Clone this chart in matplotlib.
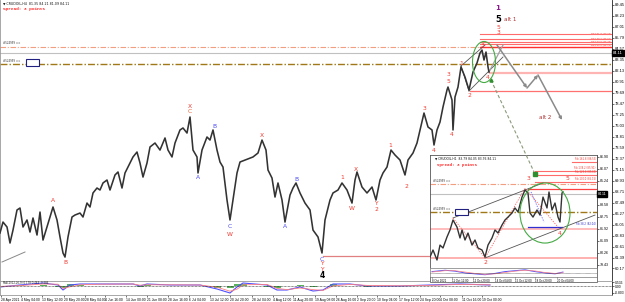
import matplotlib
matplotlib.use("Agg")
import matplotlib.pyplot as plt
from matplotlib.patches import Ellipse, Rectangle
from matplotlib.lines import Line2D

# ---------------- data ----------------
main_bar = [0, 3, 7, 10, 13, 17, 20, 23, 27, 30, 33, 37, 40, 43, 47, 50, 53, 57, 60, 63,
            65, 68, 72, 75, 80, 83, 87, 90, 93, 97, 100, 103, 107, 110, 115, 118, 122, 125, 130, 133,
            137, 140, 143, 147, 150, 155, 160, 165, 168, 172, 175, 180, 183, 187, 190, 193, 197, 198, 202, 207,
            210, 213, 217, 220, 223, 227, 230, 233, 237, 240, 245, 250, 253, 258, 262, 266, 268, 272, 275, 278,
            282, 285, 290, 293, 296, 300, 305, 310, 313, 318, 322, 325, 330, 333, 338, 342, 347, 352, 355, 357,
            362, 367, 372, 376, 380, 383, 387, 391, 395, 400, 405, 408, 413, 417, 420, 424, 428, 432, 434, 437,
            440, 443, 447, 448, 452, 453, 455, 458, 461, 465, 469, 473, 477, 480, 482, 484, 486, 488, 489]
main_close = [64.11, 65.33, 64.78, 63.00, 64.44, 66.67, 66.89, 64.78, 65.56, 64.22, 65.78, 63.89, 66.44, 63.33, 64.78, 65.89, 67.00, 65.56, 63.67, 61.89,
              61.44, 63.67, 65.89, 66.11, 66.33, 65.89, 67.44, 67.00, 68.56, 69.11, 68.89, 69.67, 70.00, 68.89, 70.56, 70.89, 69.11, 70.78, 71.89, 72.56,
              73.11, 71.89, 70.33, 71.89, 73.67, 74.11, 73.33, 74.67, 73.33, 72.56, 74.11, 75.56, 75.78, 75.22, 77.00, 73.33, 72.56, 70.78, 73.33, 74.78,
              74.44, 75.56, 73.33, 72.00, 71.44, 67.78, 65.56, 67.78, 70.78, 72.00, 72.22, 72.44, 72.56, 73.00, 74.44, 73.33, 71.11, 70.22, 68.11, 69.67,
              67.78, 65.33, 68.33, 69.11, 69.67, 68.56, 67.44, 66.67, 64.44, 63.67, 61.89, 65.56, 67.78, 68.56, 68.89, 69.67, 68.89, 67.44, 70.00, 70.89,
              69.22, 68.56, 69.22, 67.78, 70.00, 70.78, 71.44, 73.33, 72.78, 72.22, 70.56, 72.22, 73.00, 74.11, 75.56, 77.44, 75.89, 75.56, 73.89, 75.56,
              76.44, 78.11, 80.00, 80.33, 78.89, 75.56, 79.22, 80.33, 82.56, 81.44, 80.00, 82.00, 83.00, 84.11, 84.44, 83.33, 84.22, 82.56, 82.00]

osc_bar = [0, 20, 43, 58, 63, 70, 80, 100, 133, 140, 147, 170, 200, 217, 230, 237, 243, 267, 277, 287,
           300, 313, 323, 333, 350, 367, 400, 430, 460, 490]
osc_main = [-0.25, 0.25, 0.75, 0.25, -1.0, 0.25, 0.5, 0.5, 0.5, 0.0, 0.5, 0.25, 0.25, -0.75, -1.75, -0.25, 0.75, 0.25, -1.0, -1.0,
            -0.25, -1.25, -1.0, 0.5, 0.5, 0.0, 0.0, 0.25, 0.5, 0.25]
osc_signal = [-0.1, 0.1, 0.5, 0.45, -0.6, -0.2, 0.3, 0.45, 0.5, 0.2, 0.3, 0.3, 0.25, -0.3, -1.3, -0.8, 0.3, 0.4, -0.6, -0.9,
              -0.5, -0.9, -1.1, 0.0, 0.4, 0.15, 0.05, 0.15, 0.4, 0.3]
osc_hist = [-0.15, 0.15, 0.25, -0.2, -0.4, 0.45, 0.2, 0.05, 0.0, -0.2, 0.2, -0.05, 0.0, -0.45, -0.45, 0.55, 0.45, -0.15, -0.4, -0.1,
            0.25, -0.35, 0.1, 0.5, 0.1, -0.15, -0.05, 0.1, 0.1, -0.05]

tick_bars = [1, 21, 42, 64, 85, 105, 126, 147, 168, 189, 210, 230, 252, 273, 293, 315, 336, 357, 377, 399, 420, 440, 462, 482]
tick_labels = ["28 Apr 2021", "4 May 04:00", "13 May 12:00", "20 May 20:00", "28 May 04:00", "4 Jun 16:00",
               "14 Jun 00:00", "21 Jun 08:00", "28 Jun 16:00", "6 Jul 04:00", "13 Jul 12:00", "20 Jul 20:00",
               "28 Jul 04:00", "4 Aug 12:00", "11 Aug 20:00", "19 Aug 08:00", "26 Aug 16:00", "2 Sep 20:00",
               "10 Sep 04:00", "17 Sep 12:00", "24 Sep 20:00", "4 Oct 08:00", "11 Oct 16:00", "19 Oct 00:00"]
price_ticks = [89.45, 88.23, 87.01, 85.79, 84.57, 83.35, 82.13, 80.91, 79.69, 78.47, 77.25, 76.03, 74.81,
               73.59, 72.37, 71.15, 69.93, 68.71, 67.49, 66.27, 65.05, 63.83, 62.61, 61.39, 60.17]
current_price = 84.11

# inset (H1) data
in_bar = [430, 433, 437, 440, 443, 447, 450, 453, 457, 460, 462, 465, 468, 472, 475, 478, 482, 485, 488, 492,
          495, 498, 502, 505, 508, 512, 515, 518, 522, 525, 528, 530, 533, 537, 540, 543, 547, 549, 552, 555,
          558, 560, 562, 563]
in_close = [79.98, 80.46, 79.77, 80.80, 80.60, 81.36, 81.84, 82.53, 82.04, 81.29, 81.84, 81.15, 81.63, 80.80, 81.15, 80.60, 80.46, 79.98, 80.80, 81.29,
            81.84, 81.63, 82.18, 82.53, 82.73, 83.01, 83.36, 83.08, 84.11, 84.60, 84.39, 83.01, 82.73, 83.22, 82.87, 84.11, 83.36, 84.46, 83.22, 83.70,
            82.73, 82.39, 84.39, 84.46]
in_osc_bar = [432, 445, 455, 465, 475, 485, 495, 505, 515, 525, 535, 545, 555, 563]
in_osc_main = [0.2, 0.5, 0.3, -0.1, -0.3, -0.5, -0.2, 0.2, 0.4, 0.6, 0.2, -0.1, -0.3, 0.1]
in_osc_signal = [0.1, 0.4, 0.4, 0.1, -0.2, -0.4, -0.3, 0.0, 0.3, 0.5, 0.35, 0.0, -0.2, -0.05]
in_tick_bars = [432, 452, 473, 495, 515, 535, 557]
in_tick_labels = ["8 Oct 2021", "11 Oct 12:00", "12 Oct 20:00", "14 Oct 04:00", "15 Oct 12:00", "18 Oct 20:00", "20 Oct 04:00"]
in_price_ticks = [86.90, 86.07, 85.24, 83.58, 82.75, 81.92, 81.09, 80.26, 79.43]
in_current = 84.32

# ---------------- figure ----------------
W, H = 625, 302
fig = plt.figure(figsize=(W / 100, H / 100), dpi=100)
fig.patch.set_facecolor("white")


def fx(p):
    return p / W


def fy(p):
    return 1 - p / H


RED = "#f03a30"
BLUE = "#4a4af0"
FS = 4.3

ax = fig.add_axes([0, fy(281), 612 / W, 281 / H])
ax.set_xlim(0, 612)
ax.set_ylim(58.78, 90)
ax.plot(main_bar, main_close, color="#333333", lw=1.15, zorder=3)

ax.set_xticks([])
ax.yaxis.tick_right()
ax.set_yticks(price_ticks)
ax.set_yticklabels([f"{v:.2f}" for v in price_ticks], fontsize=2.9, family="Liberation Sans")
ax.tick_params(axis="y", length=1.5, width=0.4, pad=0.8)
ax.spines["top"].set_visible(False)
ax.spines["left"].set_color("#999999")
ax.spines["bottom"].set_color("#999999")
ax.spines["right"].set_color("#222222")
for s in ax.spines.values():
    s.set_linewidth(0.6)

# horizontal levels
ax.axhline(84.78, color="#f0a080", lw=0.8, ls=(0, (5, 1.5, 1, 1.5)))
ax.axhline(current_price, color="#c0c0c0", lw=0.8)
ax.axhline(82.89, color="#a07818", lw=1.0, ls=(0, (5, 1.5, 1, 1.5)))
for lv, va, lab in [(86.22, "bottom", "Fib 161.8 (86.22)"), (85.67, "bottom", "Fib 138.2 (85.67)"),
                    (85.33, "bottom", "Fib 123.6 (85.33)"), (85.11, "top", "Fib 100.0 (85.11)")]:
    ax.plot([480, 612], [lv, lv], color="#ff6a6a", lw=0.8)
    ax.text(611, lv, lab, fontsize=1.7, color=RED, ha="right", va=va)
ax.plot([480, 612], [84.78, 84.78], color="#ff3030", lw=1.0)
ax.plot([490, 612], [81.89, 81.89], color="#ffb4b4", lw=1.6)
ax.plot([470, 612], [79.89, 79.89], color="#ff7070", lw=0.9)
ax.plot([323, 430], [61.56, 61.56], color="#e08080", lw=0.9)
ax.plot([2, 25], [60.89, 62.0], color="#888888", lw=0.7)

ax.text(3, 84.95, "#524959 ==", fontsize=1.9, color="#333333", va="bottom")
ax.text(3, 83.05, "#524959 ==", fontsize=1.9, color="#333333", va="bottom")
ax.add_patch(Rectangle((27, 82.56), 13, 0.77, facecolor="#bbbbbb", edgecolor="none", zorder=4))
ax.add_patch(Rectangle((26, 82.67), 13, 0.77, facecolor="white", edgecolor="#202080", lw=0.8, zorder=5))

ax.text(3, 89.85, "\u25BC CRUDOIL,H4  81.35 84.21 81.09 84.11", fontsize=2.3, va="top", color="#111111")
ax.text(3, 89.2, "Spread: 3 points", fontsize=3.2, va="top", color="#ff2020",
        family="Liberation Mono", weight="bold")

# current price box
ax.text(1.002, current_price, f"{current_price:.2f}", transform=ax.get_yaxis_transform(),
        fontsize=2.9, color="white", va="center", ha="left", family="Liberation Sans",
        bbox=dict(facecolor="black", edgecolor="black", pad=0.6))

# wave labels
labels = [
    ("A", 53, 67.67, RED), ("B", 65, 60.89, RED), ("X", 190, 78.22, RED), ("C", 190, 77.56, "#f06030"),
    ("A", 198, 70.33, BLUE), ("B", 214, 76.0, BLUE), ("C", 230, 64.78, BLUE), ("W", 230, 64.0, RED),
    ("X", 262, 74.89, RED), ("A", 285, 64.78, BLUE), ("B", 296, 70.11, BLUE),
    ("1", 342, 70.33, RED), ("W", 352, 66.78, RED), ("X", 356, 71.22, RED), ("Y", 376, 67.44, RED),
    ("2", 376, 66.67, RED), ("1", 390, 73.89, RED), ("2", 406, 69.33, RED), ("3", 424, 77.89, RED),
    ("4", 434, 73.33, RED), ("3", 448, 81.67, RED), ("5", 448, 80.89, RED), ("4", 452, 75.11, RED),
    ("1", 461, 83.0, RED), ("2", 469, 79.44, RED), ("3", 482, 85.0, RED), ("4", 488, 81.44, RED),
    ("C", 322, 61.22, BLUE), ("Y", 322, 60.67, RED), ("Y", 322, 60.11, RED),
    ("5", 498, 87.0, RED), ("3", 498, 86.44, RED),
]
for s, x, y, c in labels:
    ax.text(x, y, s, fontsize=FS, color=c, ha="center", va="center", zorder=6)
ax.text(322, 59.44, "4", fontsize=5.5, color="black", weight="bold", ha="center", va="center")
ax.text(498, 89.15, "1", fontsize=5.0, color="#8b1a8b", weight="bold", ha="center", va="center")
ax.text(498, 87.85, "5", fontsize=6.0, color="black", weight="bold", ha="center", va="center")
ax.text(504, 87.85, "alt 1", fontsize=4.0, color="#b03030", ha="left", va="center")
ax.text(545, 76.89, "alt 2", fontsize=4.0, color="#b03030", ha="center", va="center")

# channel / ellipse / projection
ax.plot([461, 485], [82.67, 85.0], color="#555555", lw=0.6)
ax.plot([461, 469], [82.67, 79.89], color="#555555", lw=0.6)
ax.plot([469, 503], [79.89, 83.67], color="#555555", lw=0.6)
ax.add_patch(Ellipse((484, 83.11), 23, 4.56, fill=False, edgecolor="#44aa44", lw=0.8, zorder=7))
proj_bar = [497, 527, 538, 562]
proj_price = [85.0, 80.22, 81.67, 76.67]
for i in range(len(proj_bar) - 1):
    ax.annotate("", xy=(proj_bar[i + 1], proj_price[i + 1]), xytext=(proj_bar[i], proj_price[i]),
                arrowprops=dict(arrowstyle="-|>", color="#8a8a8a", lw=1.1, mutation_scale=4,
                                shrinkA=0, shrinkB=0))
ax.plot([489, 503], [82.0, 85.0], color="#a0a0a0", lw=0.9)

# ---------------- main oscillator ----------------
axo = fig.add_axes([0, fy(295), 612 / W, 14 / H])
axo.set_xlim(0, 612)
axo.set_ylim(-2.25, 1.25)
axo.bar(osc_bar, osc_hist, width=7, color="#30a030", alpha=0.8)
axo.plot(osc_bar, osc_main, color="#5050ff", lw=0.8)
axo.plot(osc_bar, osc_signal, color="#ff8080", lw=0.6)
axo.axhline(0, color="#222222", lw=0.5, ls=(0, (1, 1)))
axo.set_xticks(tick_bars)
axo.set_xticklabels(tick_labels, fontsize=2.4, ha="left", family="Liberation Sans")
axo.yaxis.tick_right()
axo.set_yticks([1.0, 0.0, -1.75])
axo.set_yticklabels(["0.536", "0.00", "-0.803"], fontsize=2.4, family="Liberation Sans")
axo.tick_params(length=1.5, width=0.4, pad=0.8)
axo.spines["top"].set_color("#999999")
axo.spines["left"].set_color("#999999")
axo.spines["bottom"].set_color("#999999")
axo.spines["right"].set_color("#222222")
for s in axo.spines.values():
    s.set_linewidth(0.6)
axo.text(3, 1.15, "MACD(12,26,9) 0.178 0.464 -0.286", fontsize=1.9, va="top", color="#222222")

# ---------------- inset ----------------
bg = Rectangle((fx(430), fy(282)), 167 / W, 127 / H, transform=fig.transFigure,
               facecolor="white", edgecolor="#666666", lw=0.6, zorder=1)
fig.add_artist(bg)

axi = fig.add_axes([fx(430), fy(268), 167 / W, 113 / H])
axi.set_zorder(2)
axi.set_xlim(430, 597)
axi.set_ylim(79.22, 87.01)
axi.plot(in_bar, in_close, color="#333333", lw=1.0, zorder=3)
axi.set_xticks([])
axi.yaxis.tick_right()
axi.set_yticks(in_price_ticks)
axi.set_yticklabels([f"{v:.2f}" for v in in_price_ticks], fontsize=2.6, family="Liberation Sans")
axi.tick_params(axis="y", length=1.2, width=0.4, pad=0.6)
for s in axi.spines.values():
    s.set_color("#555555")
    s.set_linewidth(0.6)

axi.axhline(85.01, color="#f0a080", lw=0.8, ls=(0, (5, 1.5, 1, 1.5)))
axi.axhline(in_current, color="#c0c0c0", lw=0.8)
axi.axhline(83.08, color="#a07818", lw=1.0, ls=(0, (5, 1.5, 1, 1.5)))
axi.axhline(81.91, color="#ffb0b0", lw=1.2)
axi.axhline(79.91, color="#ffb0b0", lw=1.4)
for x0, lv, lab in [(572, 86.53, "Fib 161.8 (86.53)"), (535, 85.91, "Fib 138.2 (85.91)"),
                    (535, 85.63, "Fib 123.6 (85.63)"), (535, 85.15, "Fib 100.0 (85.15)")]:
    axi.plot([x0, 597], [lv, lv], color="#ff6a6a", lw=0.8)
    axi.text(596, lv + 0.04, lab, fontsize=1.8, color=RED, ha="right", va="bottom")
axi.plot([528, 597], [84.67, 84.67], color="#ff4040", lw=0.9)
axi.plot([528, 562], [82.04, 82.04], color="#3030d0", lw=0.9)
axi.text(596, 82.1, "Fib 38.2 (82.04)", fontsize=1.8, color="#3030d0", ha="right", va="bottom")

axi.plot([453, 543], [82.67, 85.08], color="#555555", lw=0.6)
axi.plot([485, 595], [79.91, 82.87], color="#555555", lw=0.6)
axi.plot([453, 485, 525, 558], [82.67, 79.91, 84.73, 82.04], color="#ff6060", lw=0.6, ls=(0, (1.5, 1.5)))
axi.plot([531, 544], [84.46, 82.39], color="#6060ff", lw=0.6, ls=(0, (1.5, 1.5)))
axi.add_patch(Ellipse((545, 83.01), 50, 4.14, fill=False, edgecolor="#44aa44", lw=0.8, zorder=7))

for s, x, y in [("2", 485, 79.63), ("3", 528, 85.42), ("5", 567, 85.42), ("4", 560, 81.63)]:
    axi.text(x, y, s, fontsize=FS, color=RED, ha="center", va="center", zorder=6)

axi.text(0.03, 0.985, "\u25BC CRUDOIL,H1  83.79 84.05 83.76 84.11", transform=axi.transAxes,
         fontsize=2.2, va="top", color="#111111")
axi.text(0.04, 0.93, "Spread: 3 points", transform=axi.transAxes, fontsize=3.1, va="top",
         color="#ff2020", family="Liberation Mono", weight="bold")
axi.text(433, 85.06, "#524959 ==", fontsize=1.9, color="#333333", va="bottom")
axi.text(433, 83.13, "#524959 ==", fontsize=1.9, color="#333333", va="bottom")
axi.add_patch(Rectangle((456, 82.81), 13, 0.42, facecolor="#bbbbbb", edgecolor="none", zorder=4))
axi.add_patch(Rectangle((455, 82.87), 13, 0.42, facecolor="white", edgecolor="#202080", lw=0.8, zorder=5))
axi.text(1.005, in_current, f"{current_price:.2f}", transform=axi.get_yaxis_transform(),
         fontsize=2.6, color="white", va="center", ha="left", family="Liberation Sans",
         bbox=dict(facecolor="black", edgecolor="black", pad=0.5))

axio = fig.add_axes([fx(430), fy(277), 167 / W, 9 / H])
axio.set_zorder(2)
axio.set_xlim(430, 597)
axio.set_ylim(-1, 1)
axio.plot(in_osc_bar, in_osc_main, color="#5050ff", lw=0.7)
axio.plot(in_osc_bar, in_osc_signal, color="#ff8080", lw=0.5)
axio.axhline(0, color="#222222", lw=0.4, ls=(0, (1, 1)))
axio.set_yticks([])
axio.set_xticks(in_tick_bars)
axio.set_xticklabels(in_tick_labels, fontsize=2.1, ha="left", family="Liberation Sans")
axio.tick_params(length=1, width=0.4, pad=0.5)
for s in axio.spines.values():
    s.set_color("#777777")
    s.set_linewidth(0.5)

# dashed pointer into the inset (drawn above it)
dash_bar = [491, 535]
dash_price = [81.11, 70.67]
fig.add_artist(Line2D(dash_bar, dash_price, transform=ax.transData, color="#8a9a7a",
                      lw=0.8, ls=(0, (3, 2)), zorder=3))
fig.add_artist(Line2D([dash_bar[1]], [dash_price[1]], transform=ax.transData, color="#2f8f2f",
                      marker="s", markersize=2.2, lw=0, zorder=3))
fig.add_artist(Line2D([dash_bar[0]], [dash_price[0]], transform=ax.transData, color="#2f8f2f",
                      marker="^", markersize=2.2, lw=0, zorder=3))

fig.savefig("out.png", dpi=100, facecolor="white")
